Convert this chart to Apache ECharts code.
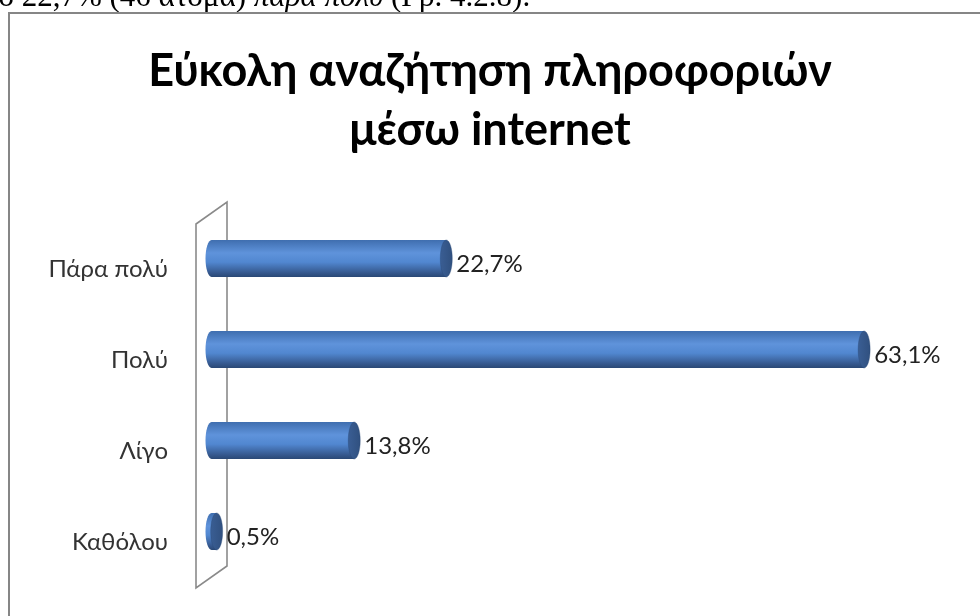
<!DOCTYPE html>
<html>
<head>
<meta charset="utf-8">
<script src="https://cdn.jsdelivr.net/npm/echarts@6/dist/echarts.min.js"></script>
<style>
  html, body { margin: 0; padding: 0; background: #fff; }
  #chart { width: 980px; height: 616px; }
</style>
</head>
<body>
<div id="chart"></div>
<script>
// Answers to "Εύκολη αναζήτηση πληροφοριών μέσω internet" (percent of respondents)
const categories = ['Καθόλου', 'Λίγο', 'Πολύ', 'Πάρα πολύ'];
const percentages = [0.5, 13.8, 63.1, 22.7];
const titleLines = ['Εύκολη αναζήτηση πληροφοριών', 'μέσω internet'];

const FONT = 'Lato, "Noto Sans", sans-serif';

// 3D look: bars sit half-way into the depth of the side wall
const DEPTH_X = 31, DEPTH_Y = -22;
const BAR_DX = DEPTH_X / 2, BAR_DY = DEPTH_Y / 2;
const BAR_H = 37, CAP_RX = 6;

const bodyGradient = new echarts.graphic.LinearGradient(0, 0, 0, 1, [
  { offset: 0, color: '#3f6eaf' },
  { offset: 0.35, color: '#5f93db' },
  { offset: 0.6, color: '#5187d0' },
  { offset: 0.88, color: '#36598f' },
  { offset: 1, color: '#2a4875' }
]);
const capGradient = new echarts.graphic.LinearGradient(0, 0, 1, 0, [
  { offset: 0, color: '#3a5e94' },
  { offset: 1, color: '#30507f' }
]);

function fmt(v) {
  return v.toFixed(1).replace('.', ',') + '%';
}

function renderCylinder(params, api) {
  const v = api.value(0);
  const idx = api.value(1);
  const end = api.coord([v, idx]);
  const start = api.coord([0, idx]);
  const cx0 = start[0] + BAR_DX;
  const cx1 = end[0] + BAR_DX;
  const cy = end[1] + BAR_DY;
  const ry = BAR_H / 2;
  return {
    type: 'group',
    children: [
      { type: 'ellipse', shape: { cx: cx0, cy: cy, rx: CAP_RX, ry: ry }, style: { fill: bodyGradient } },
      { type: 'rect', shape: { x: cx0, y: cy - ry, width: cx1 - cx0, height: BAR_H }, style: { fill: bodyGradient } },
      { type: 'ellipse', shape: { cx: cx1, cy: cy, rx: CAP_RX, ry: ry }, style: { fill: capGradient, stroke: 'rgba(40,70,115,0.6)', lineWidth: 0.6 } },
      {
        type: 'text',
        style: {
          x: cx1 + CAP_RX + 4, y: cy + 6,
          text: fmt(v),
          font: '24px ' + FONT,
          fill: '#222',
          verticalAlign: 'middle', align: 'left'
        }
      }
    ]
  };
}

function renderWall(params, api) {
  const r = params.coordSys;
  const x = r.x, top = r.y, bottom = r.y + r.height;
  return {
    type: 'polygon',
    shape: {
      points: [
        [x, top], [x + DEPTH_X, top + DEPTH_Y],
        [x + DEPTH_X, bottom + DEPTH_Y], [x, bottom]
      ]
    },
    style: { fill: 'none', stroke: '#8a8a8a', lineWidth: 1.6 }
  };
}

const chart = echarts.init(document.getElementById('chart'), null, { renderer: 'canvas' });
chart.setOption({
  backgroundColor: '#fff',
  animation: false,
  title: {
    text: titleLines.join('\n'),
    left: 'center',
    top: 37,
    textStyle: { fontFamily: FONT, fontSize: 45, fontWeight: 'bold', color: '#000', lineHeight: 59 }
  },
  graphic: [
    {
      type: 'rect',
      shape: { x: 9, y: 13, width: 1000, height: 700 },
      style: { fill: 'none', stroke: '#868686', lineWidth: 2 },
      z: 10
    },
    {
      type: 'text',
      left: -14, top: -18,
      style: {
        text: '{n|το 22,7% (46 άτομα) }{i|παρά πολύ}{n| (Γρ. 4.2.8).}',
        rich: {
          n: { fontFamily: '"Liberation Serif", serif', fontSize: 31, fill: '#000' },
          i: { fontFamily: '"Liberation Serif", serif', fontSize: 31, fontStyle: 'italic', fill: '#000' }
        }
      }
    }
  ],
  grid: { left: 196, top: 224, width: 724, height: 364, containLabel: false },
  xAxis: {
    type: 'value', min: 0, max: 70,
    show: false
  },
  yAxis: {
    type: 'category',
    data: categories,
    axisLine: { show: false },
    axisTick: { show: false },
    axisLabel: { margin: 28, fontFamily: FONT, fontSize: 24, color: '#333' },
    splitLine: { show: false }
  },
  series: [
    {
      type: 'custom',
      name: 'wall',
      renderItem: renderWall,
      data: [[0, 0]],
      silent: true,
      z: 1
    },
    {
      type: 'custom',
      name: 'Ποσοστό',
      renderItem: renderCylinder,
      encode: { x: 0, y: 1 },
      data: percentages.map((v, i) => [v, i]),
      z: 2
    }
  ]
});
</script>
</body>
</html>
